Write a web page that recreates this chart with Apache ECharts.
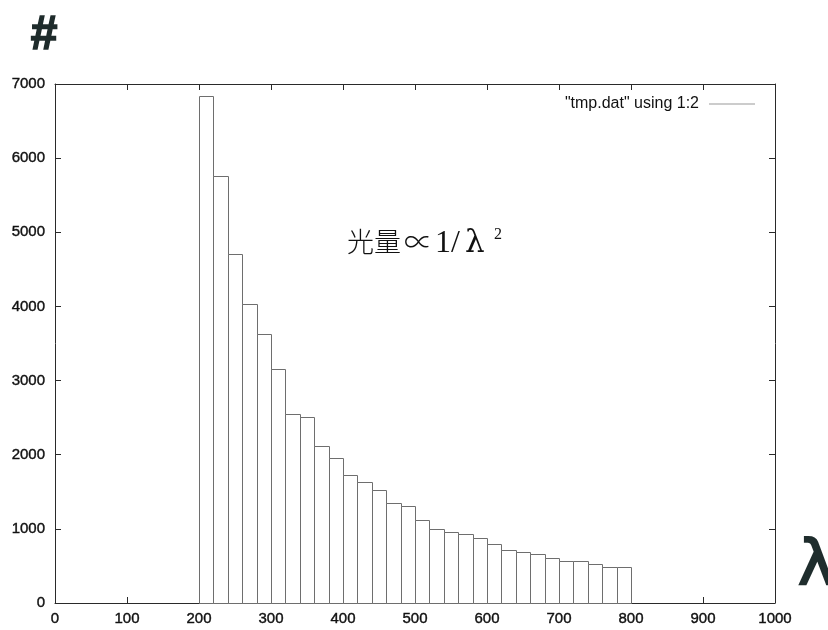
<!DOCTYPE html>
<html><head><meta charset="utf-8">
<script src="https://cdn.jsdelivr.net/npm/echarts@6/dist/echarts.min.js"></script>
<style>html,body{margin:0;padding:0;background:#fff}#c{width:828px;height:630px}</style>
</head><body><div id="c"></div>
<script>
// histogram bins (wavelength, start of each bin) and counts
const binStarts = [200,220,240,260,280,300,320,340,360,380,400,420,440,460,480,500,520,540,560,580,600,620,640,660,680,700,720,740,760,780];
const binWidth = 20;
const counts = [6840,5760,4710,4030,3625,3160,2545,2510,2120,1960,1720,1630,1530,1350,1315,1125,1000,955,925,875,795,720,690,665,610,565,560,520,480,485];
const xTickLabels = ['0','100','200','300','400','500','600','700','800','900','1000'];
const yTickLabels = ['0','1000','2000','3000','4000','5000','6000','7000'];
const seriesName = '"tmp.dat" using 1:2';
const annotationJa = '光量';
const annotationProp = '∝';
const annotationFrac = '1/';
const annotationLambda = 'λ';
const annotationSup = '2';
const cornerMark = '#';
const axisMark = 'λ';

const data = binStarts.map((s, i) => [s, s + binWidth, counts[i]]);
const xMin = Number(xTickLabels[0]), xMax = Number(xTickLabels[xTickLabels.length - 1]);
const xStep = Number(xTickLabels[1]) - xMin;
const yMin = Number(yTickLabels[0]), yMax = Number(yTickLabels[yTickLabels.length - 1]);
const yStep = Number(yTickLabels[1]) - yMin;

const frameColor = '#2a2a2a';
const labelStyle = {color: '#111', fontSize: 15, fontFamily: 'Liberation Sans, Arial, sans-serif',
  textBorderColor: '#111', textBorderWidth: 0.4};

const chart = echarts.init(document.getElementById('c'), null, {renderer: 'canvas'});
chart.setOption({
  backgroundColor: '#fff',
  animation: false,
  grid: {left: 55, right: 53, top: 84, bottom: 27, containLabel: false},
  xAxis: [
    {type: 'value', position: 'bottom', min: xMin, max: xMax, interval: xStep,
     axisLine: {show: true, onZero: false, lineStyle: {color: frameColor, width: 1}},
     axisTick: {show: true, inside: true, length: 6, lineStyle: {color: frameColor}},
     axisLabel: Object.assign({margin: 8, formatter: v => xTickLabels[Math.round((v - xMin) / xStep)]}, labelStyle),
     splitLine: {show: false}},
    {type: 'value', position: 'top', min: xMin, max: xMax, interval: xStep,
     axisLine: {show: true, onZero: false, lineStyle: {color: frameColor, width: 1}},
     axisTick: {show: true, inside: true, length: 6, lineStyle: {color: frameColor}},
     axisLabel: {show: false}, splitLine: {show: false}}
  ],
  yAxis: [
    {type: 'value', position: 'left', min: yMin, max: yMax, interval: yStep,
     axisLine: {show: true, onZero: false, lineStyle: {color: frameColor, width: 1}},
     axisTick: {show: true, inside: true, length: 6, lineStyle: {color: frameColor}},
     axisLabel: Object.assign({margin: 10, formatter: v => yTickLabels[Math.round((v - yMin) / yStep)]}, labelStyle),
     splitLine: {show: false}},
    {type: 'value', position: 'right', min: yMin, max: yMax, interval: yStep,
     axisLine: {show: true, onZero: false, lineStyle: {color: frameColor, width: 1}},
     axisTick: {show: true, inside: true, length: 6, lineStyle: {color: frameColor}},
     axisLabel: {show: false}, splitLine: {show: false}}
  ],
  legend: {
    show: true, right: 68, top: 91, align: 'right', itemWidth: 46, itemHeight: 1, itemGap: 0,
    icon: 'rect', data: [seriesName],
    itemStyle: {color: '#999', borderWidth: 0},
    textStyle: {color: '#111', fontSize: 16, fontFamily: 'Liberation Sans, Arial, sans-serif', padding: [0, 5, 0, 0]},
    selectedMode: false
  },
  series: [{
    type: 'custom', name: seriesName, xAxisIndex: 0, yAxisIndex: 0,
    data: data,
    encode: {x: [0, 1], y: 2},
    itemStyle: {color: '#999'},
    renderItem: function (params, api) {
      const p0 = api.coord([api.value(0), api.value(2)]);
      const p1 = api.coord([api.value(1), 0]);
      return {type: 'rect',
        shape: {x: Math.round(p0[0]) + 0.5, y: Math.round(p0[1]) + 0.5, width: Math.round(p1[0]) - Math.round(p0[0]), height: Math.round(p1[1]) - Math.round(p0[1])},
        style: {fill: '#fff', stroke: '#6e6e6e', lineWidth: 1}};
    },
    z: 1
  }],
  graphic: [
    {type: 'text', left: 347, top: 228, style: {text: annotationJa, fontSize: 27, fontFamily: '"Noto Sans CJK JP", serif', fontWeight: 300, fill: '#111'}},
    {type: 'text', left: 404, top: 227, style: {text: annotationProp, fontSize: 29, fontFamily: '"Noto Sans CJK JP", sans-serif', fontWeight: 300, fill: '#111'}},
    {type: 'text', left: 435, top: 228, style: {text: annotationFrac, fontSize: 32, fontFamily: 'Liberation Serif, serif', fill: '#111'}},
    {type: 'text', left: 465, top: 228, style: {text: annotationLambda, fontSize: 31, fontFamily: 'DejaVu Serif, serif', fill: '#111'}},
    {type: 'text', left: 494, top: 227, style: {text: annotationSup, fontSize: 16, fontFamily: 'Liberation Serif, serif', fill: '#111'}},
    {type: 'text', left: 30, top: 11, style: {text: cornerMark, fontSize: 48, fontWeight: 'bold', fontFamily: 'Liberation Sans, sans-serif', fill: '#1e2b2b', stroke: '#1e2b2b', lineWidth: 1.5}},
    {type: 'text', left: 797, top: 536, style: {text: axisMark, fontSize: 62, fontFamily: 'DejaVu Sans, sans-serif', fill: '#1f2d2d', stroke: '#1f2d2d', lineWidth: 2}}
  ]
});
</script>
</body></html>
